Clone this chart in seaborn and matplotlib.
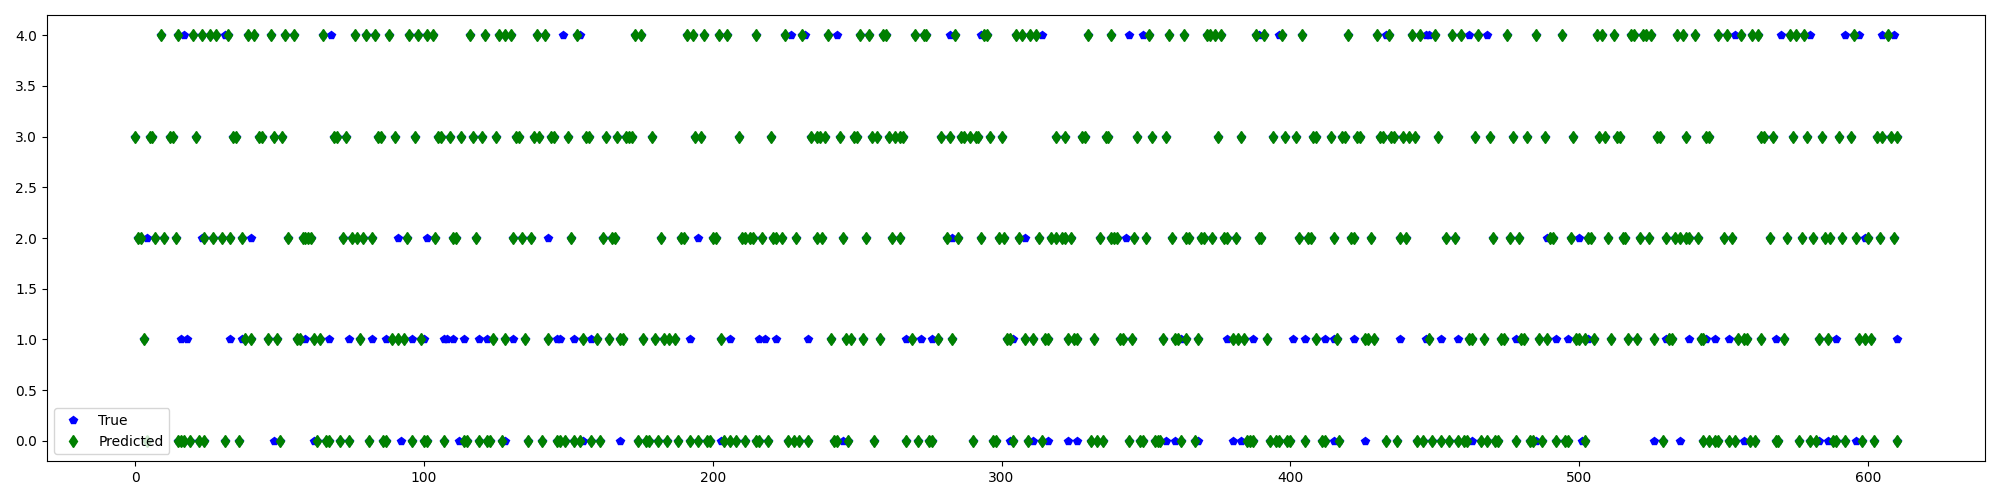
import pandas as pd
import matplotlib
matplotlib.use("Agg")
import matplotlib.pyplot as plt
import seaborn as sns

# sample indices where the model predicted each class
pred_4 = [9, 15, 20, 23, 26, 28, 32, 39, 41, 47, 52, 55, 65, 76, 80, 83, 88, 95, 98, 101, 103,
          116, 121, 126, 128, 130, 139, 142, 153, 173, 175, 191, 193, 197, 202, 205, 215,
          225, 231, 240, 251, 254, 259, 260, 270, 273, 274, 284, 294, 295, 305, 307, 310, 312,
          330, 338, 351, 358, 363, 371, 372, 374, 376, 388, 391, 397, 404, 420, 430, 434,
          442, 445, 450, 456, 459, 465, 475, 485, 494, 506, 508, 512, 518, 519, 522, 523, 525,
          534, 536, 540, 548, 551, 556, 560, 562, 573, 575, 578, 595, 607]
pred_3 = [0, 5, 6, 12, 13, 21, 34, 35, 43, 44, 48, 51, 69, 70, 73, 84, 85, 90, 97, 105, 106,
          109, 113, 117, 120, 125, 132, 133, 138, 140, 144, 145, 150, 156, 157, 163, 167, 170,
          171, 172, 179, 194, 196, 209, 220, 234, 236, 237, 239, 244, 249, 250, 255, 257, 261,
          263, 265, 266, 279, 282, 286, 287, 289, 291, 292, 296, 300, 319, 322, 328, 329, 336,
          337, 347, 352, 357, 375, 383, 394, 398, 402, 408, 409, 414, 418, 419, 423, 424, 431,
          432, 435, 436, 439, 441, 443, 451, 464, 469, 477, 482, 488, 498, 507, 509, 513, 514,
          527, 528, 537, 544, 545, 563, 564, 567, 574, 579, 584, 590, 594, 603, 605, 608, 610]
pred_2 = [1, 2, 7, 10, 14, 24, 27, 30, 33, 37, 53, 58, 59, 60, 61, 72, 75, 77, 79, 82, 94, 104,
          110, 111, 118, 131, 134, 137, 151, 162, 165, 166, 182, 189, 190, 200, 201, 210, 211,
          213, 214, 217, 221, 222, 224, 229, 236, 238, 245, 253, 262, 265, 281, 285, 293, 299,
          301, 306, 313, 317, 319, 321, 322, 324, 334, 338, 339, 340, 346, 350, 359, 364, 365,
          369, 370, 373, 377, 378, 381, 389, 390, 403, 406, 407, 415, 421, 422, 428, 438, 440,
          454, 457, 470, 476, 479, 490, 491, 497, 503, 504, 510, 515, 516, 521, 524, 530, 533,
          535, 537, 538, 541, 550, 553, 566, 572, 577, 581, 585, 587, 591, 596, 600, 604, 609]
pred_1 = [3, 38, 40, 46, 49, 56, 57, 62, 64, 78, 89, 91, 93, 99, 124, 128, 135, 143, 155, 160,
          164, 168, 169, 176, 180, 183, 185, 187, 203, 241, 246, 248, 252, 258, 269, 278, 283,
          302, 303, 308, 311, 315, 316, 323, 325, 326, 332, 341, 342, 345, 356, 360, 361, 364,
          368, 380, 382, 384, 392, 409, 416, 426, 427, 429, 448, 462, 463, 467, 473, 474, 480,
          481, 486, 489, 499, 500, 502, 505, 511, 517, 520, 526, 531, 532, 542, 543, 555, 557,
          558, 563, 571, 583, 586, 597, 599, 601]
pred_0 = [4, 15, 16, 17, 19, 22, 24, 31, 36, 50, 63, 66, 67, 71, 74, 81, 86, 87, 96, 100, 101,
          107, 114, 115, 119, 122, 123, 127, 136, 141, 146, 147, 149, 152, 154, 158, 161, 174,
          177, 178, 181, 184, 188, 192, 195, 198, 199, 204, 206, 208, 211, 215, 216, 219, 226,
          228, 230, 233, 242, 243, 247, 256, 267, 271, 275, 276, 290, 297, 298, 304, 309, 314,
          331, 333, 335, 344, 348, 349, 353, 354, 355, 362, 367, 385, 386, 387, 393, 395, 396,
          399, 400, 405, 411, 412, 417, 433, 437, 444, 446, 449, 452, 455, 458, 460, 461, 466,
          468, 471, 472, 478, 483, 484, 487, 492, 495, 496, 502, 529, 543, 545, 547, 548, 552,
          554, 559, 561, 568, 569, 576, 580, 582, 588, 589, 592, 598, 602, 610]

# misclassified samples: index where the true label differs from the prediction
miss_4 = [17, 31, 68, 148, 154, 227, 232, 243, 282, 293, 314, 344, 349, 389, 396, 433,
          447, 448, 462, 468, 554, 570, 580, 592, 597, 605, 609]
miss_3 = []
miss_2 = [4, 23, 40, 91, 101, 143, 195, 283, 308, 343, 489, 500, 599]
miss_1 = [16, 18, 33, 37, 59, 67, 74, 82, 87, 96, 100, 107, 108, 110, 114, 119, 122, 131,
          146, 147, 152, 158, 192, 206, 216, 218, 222, 233, 267, 272, 276, 304, 362, 378,
          387, 401, 405, 412, 415, 422, 438, 447, 452, 458, 478, 492, 496, 503, 530, 538,
          544, 547, 552, 568, 589, 610]
miss_0 = [48, 62, 92, 112, 128, 155, 168, 203, 245, 303, 311, 316, 323, 326, 357, 360, 368,
          380, 383, 415, 426, 463, 485, 501, 526, 535, 557, 583, 586, 596]

pred_lists = {0: pred_0, 1: pred_1, 2: pred_2, 3: pred_3, 4: pred_4}
miss_lists = {0: miss_0, 1: miss_1, 2: miss_2, 3: miss_3, 4: miss_4}

pred_df = pd.DataFrame([(i, c) for c, idx in pred_lists.items() for i in idx],
                       columns=["sample", "label"])
# true labels match the prediction except where misclassified
true_df = pd.concat([
    pred_df,
    pd.DataFrame([(i, c) for c, idx in miss_lists.items() for i in idx],
                 columns=["sample", "label"]),
])

fig, ax = plt.subplots(figsize=(20, 5), dpi=100)
# marker-only lines, like plt.plot(y, 'bp') / plt.plot(y, 'gd')
sns.lineplot(data=true_df, x="sample", y="label", estimator=None, sort=False,
             errorbar=None, linestyle="", marker="p", markersize=6, color="blue",
             markeredgecolor="blue", markeredgewidth=1, label="True", ax=ax)
sns.lineplot(data=pred_df, x="sample", y="label", estimator=None, sort=False,
             errorbar=None, linestyle="", marker="d", markersize=6, color="green",
             markeredgecolor="green", markeredgewidth=1, label="Predicted", ax=ax)

ax.set_xlabel("")
ax.set_ylabel("")
ax.legend(loc="lower left")
fig.subplots_adjust(left=0.0235, right=0.9925, bottom=0.078, top=0.97)
fig.savefig("out.png")
